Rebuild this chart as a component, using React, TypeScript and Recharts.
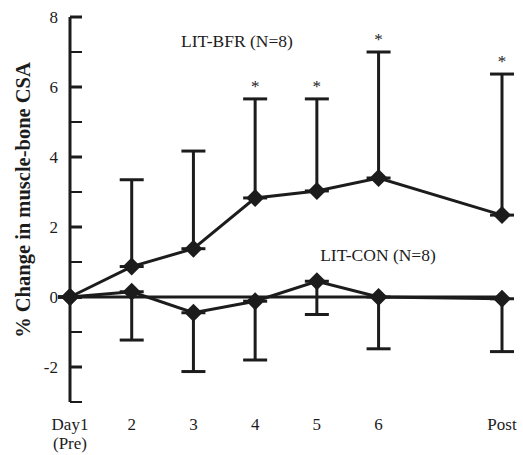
import { ComposedChart, Line, XAxis, YAxis, ErrorBar, ReferenceLine } from "recharts";

const DAYS = [1, 2, 3, 4, 5, 6, 8];
const DAY_LABELS = ["Day1", "2", "3", "4", "5", "6", "Post"];
const BFR_MEAN = [0, 0.87, 1.38, 2.83, 3.03, 3.4, 2.34];
const BFR_UPPER = [0, 3.35, 4.17, 5.66, 5.66, 7.0, 6.37];
const BFR_SIG = [false, false, false, true, true, true, true];
const CON_MEAN = [0, 0.15, -0.45, -0.12, 0.45, 0, -0.05];
const CON_LOWER = [0, -1.23, -2.13, -1.8, -0.5, -1.48, -1.56];
const Y_TICKS = [-3, -2, -1, 0, 1, 2, 3, 4, 5, 6, 7, 8];

const INK = "#1c1c1c";
const FONT = "'Liberation Serif', 'DejaVu Serif', serif";

const data = DAYS.map((d, i) => ({
  day: d,
  bfr: BFR_MEAN[i],
  bfrErr: [0, BFR_UPPER[i] - BFR_MEAN[i]],
  con: CON_MEAN[i],
  conErr: [CON_MEAN[i] - CON_LOWER[i], 0],
  star: BFR_SIG[i] ? BFR_UPPER[i] : null,
}));

// filled diamond marker
const Diamond = (p: any) => {
  const { cx, cy } = p;
  if (cx == null || cy == null) return <g key={p.index} />;
  const s = 9;
  return (
    <polygon key={p.index} points={`${cx},${cy - s} ${cx + s},${cy} ${cx},${cy + s} ${cx - s},${cy}`} fill={INK} />
  );
};

// significance asterisk above the upper error cap
const Star = (p: any) => {
  const { cx, cy, payload } = p;
  if (cx == null || cy == null || payload.star == null) return <g key={p.index} />;
  return (
    <text key={p.index} x={cx} y={cy - 7} textAnchor="middle" fontSize={17} fontFamily={FONT} fill={INK}>*</text>
  );
};

// inward ticks, labels only on even values
const YTick = (p: any) => {
  const { x, y, payload } = p;
  const v = payload.value;
  const major = v % 2 === 0;
  const ax = Number(x) + 12;
  return (
    <g>
      <path d={`M${ax},${y}H${ax + 12}`} stroke={INK} strokeWidth={major ? 3 : 2} fill="none" />
      {major && (
        <text x={x} y={y + 6} textAnchor="end" fontSize={17} fontFamily={FONT} fill={INK}>{v}</text>
      )}
    </g>
  );
};

const XTick = (p: any) => {
  const { x, y, payload } = p;
  const idx = DAYS.indexOf(payload.value);
  return (
    <g>
      <text x={x} y={y + 28} textAnchor="middle" fontSize={17} fontFamily={FONT} fill={INK}>{DAY_LABELS[idx]}</text>
      {idx === 0 && (
        <text x={x} y={y + 47} textAnchor="middle" fontSize={17} fontFamily={FONT} fill={INK}>(Pre)</text>
      )}
    </g>
  );
};

export default function App() {
  return (
    <div style={{ position: "absolute", left: 0, top: 0, width: 523, height: 455, background: "#fff" }}>
      <ComposedChart width={523} height={455} data={data} margin={{ top: 17, right: 21, bottom: 13, left: 0 }}>
        <XAxis dataKey="day" type="number" domain={[1, 8]} ticks={DAYS} axisLine={false} tickLine={false}
          tickSize={0} tickMargin={0} height={40} tick={<XTick />} interval={0} />
        <YAxis type="number" domain={[-3, 8]} ticks={Y_TICKS} width={70} axisLine={{ stroke: INK, strokeWidth: 3 }}
          tickLine={false} tickSize={0} tickMargin={12} tick={<YTick />} interval={0} allowDataOverflow />
        <ReferenceLine y={0} stroke={INK} strokeWidth={3} />
        <Line dataKey="con" stroke={INK} strokeWidth={3} dot={<Diamond />} activeDot={false} isAnimationActive={false} type="linear">
          <ErrorBar dataKey="conErr" direction="y" width={12} stroke={INK} strokeWidth={3} />
        </Line>
        <Line dataKey="bfr" stroke={INK} strokeWidth={3} dot={<Diamond />} activeDot={false} isAnimationActive={false} type="linear">
          <ErrorBar dataKey="bfrErr" direction="y" width={12} stroke={INK} strokeWidth={3} />
        </Line>
        <Line dataKey="star" stroke="none" dot={<Star />} activeDot={false} isAnimationActive={false} legendType="none" />
      </ComposedChart>
      <svg width={523} height={455} style={{ position: "absolute", left: 0, top: 0, pointerEvents: "none" }}>
        <text x={237} y={47} textAnchor="middle" fontSize={17.5} fontFamily={FONT} fill={INK}>LIT-BFR (N=8)</text>
        <text x={378} y={261} textAnchor="middle" fontSize={17.5} fontFamily={FONT} fill={INK}>LIT-CON (N=8)</text>
        <text transform="translate(30,200) rotate(-90)" textAnchor="middle" fontSize={20.5} fontWeight="bold" fontFamily={FONT} fill={INK}>
          % Change in muscle-bone CSA
        </text>
      </svg>
    </div>
  );
}
